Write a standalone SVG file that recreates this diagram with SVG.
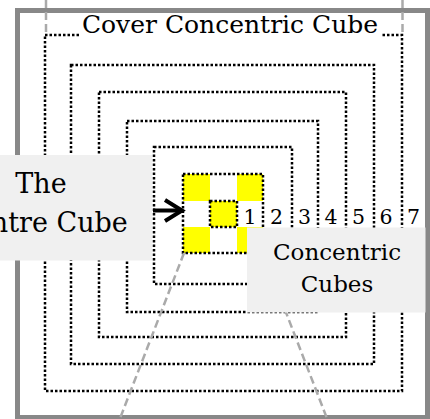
<svg xmlns="http://www.w3.org/2000/svg" width="430" height="419" viewBox="0 0 430 419">
<style>
.ring{fill:none;stroke:#000;stroke-width:2.5;stroke-dasharray:2.5 2}
.proj{fill:none;stroke:#aaa;stroke-width:2.5;stroke-dasharray:8 4}
.lbl{fill:#f0f0f0;stroke:none}
.t{font-family:"DejaVu Serif","Liberation Serif",serif;fill:#000;text-anchor:middle}
.y{fill:#ffff00}
</style>
<rect x="0" y="0" width="430" height="419" fill="#fff"/>
<rect id="frame" x="17.5" y="10.5" width="410" height="407" fill="none" stroke="#888" stroke-width="5"/>
<g id="cubes">
<g id="cube-center">
<rect class="y" x="183" y="174" width="27" height="27"/>
<rect class="y" x="237" y="174" width="26" height="27"/>
<rect class="y" x="210" y="201" width="27" height="26"/>
<rect class="y" x="183" y="227" width="27" height="26"/>
<rect class="y" x="237" y="227" width="26" height="26"/>
</g>
<rect id="ring7" class="ring" x="45" y="35" width="357" height="356"/>
<rect id="ring6" class="ring" x="71" y="65" width="303" height="299"/>
<rect id="ring5" class="ring" x="99" y="92" width="247" height="245"/>
<rect id="ring4" class="ring" x="127" y="121" width="191" height="191"/>
<rect id="ring3" class="ring" x="154" y="147" width="138" height="137"/>
<rect id="ring2" class="ring" x="183" y="174" width="80" height="79"/>
<rect id="ring1" class="ring" x="210" y="201" width="27" height="26"/>
</g>
<g id="numbers" font-size="20.5">
<text class="t" x="250" y="224">1</text>
<text class="t" x="276.5" y="224">2</text>
<text class="t" x="304.5" y="224">3</text>
<text class="t" x="331" y="224">4</text>
<text class="t" x="358.5" y="224">5</text>
<text class="t" x="386" y="224">6</text>
<text class="t" x="413.5" y="224">7</text>
</g>
<g id="connectors">
<line class="proj" x1="184" y1="253" x2="119" y2="421"/>
<line class="proj" x1="263" y1="253" x2="328" y2="421"/>
<line class="proj" x1="46" y1="0" x2="46" y2="35"/>
<line class="proj" x1="402.5" y1="0" x2="402.5" y2="35"/>
<g id="arrow" stroke="#000" stroke-width="4" fill="none">
<line x1="153" y1="210.5" x2="182" y2="210.5"/>
<polyline points="165,200 182,210.5 165,221" stroke-linejoin="miter"/>
</g>
</g>
<g id="title">
<rect x="79" y="14" width="302" height="23" fill="#fff"/>
<text class="t" x="230" y="33" font-size="25">Cover Concentric Cube</text>
</g>
<g id="label-centre">
<rect class="lbl" x="-60" y="155" width="212" height="105.5"/>
<text class="t" x="41" y="193" font-size="27">The</text>
<text class="t" x="41" y="231.5" font-size="27">Centre Cube</text>
</g>
<g id="label-concentric">
<rect class="lbl" x="247" y="227.5" width="178.5" height="85"/>
<text class="t" x="337" y="260" font-size="23">Concentric</text>
<text class="t" x="337" y="292" font-size="23">Cubes</text>
</g>
</svg>
